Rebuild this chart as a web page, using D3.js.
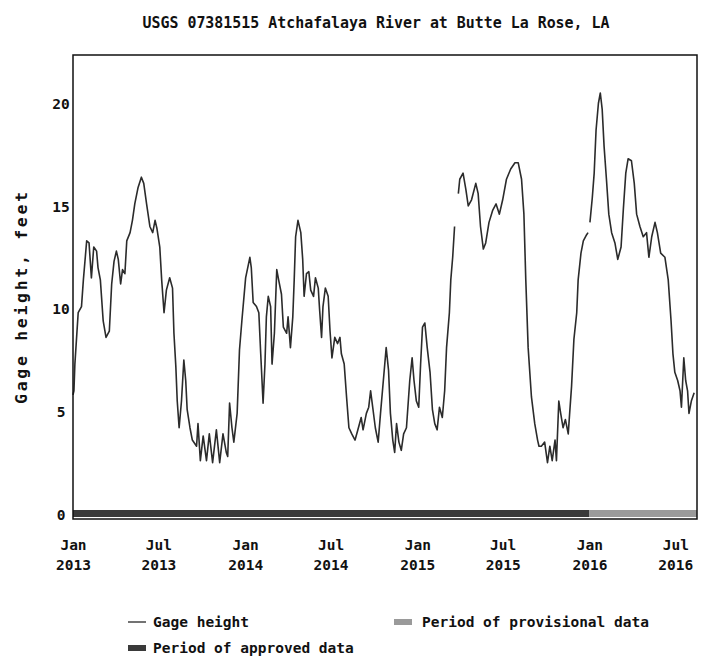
<!DOCTYPE html>
<meta charset="utf-8">
<style>
body { margin: 0; background: #fff; }
svg { font-family: "DejaVu Sans Mono", monospace; font-weight: bold; fill: #111; }
.title { font-size: 15px; }
.tick text { font-size: 14.5px; font-family: "DejaVu Sans Mono", monospace; font-weight: bold; fill: #111; }
.ylabel { font-size: 16.5px; }
.legend text { font-size: 14.5px; }
</style>
<body>
<script src="https://d3js.org/d3.v7.min.js"></script>
<script>
var title = "USGS 07381515 Atchafalaya River at Butte La Rose, LA",
    yLabel = "Gage height, feet";

/* gage height, feet (null = gap in the record) */
var dates = [
  "2013-01-01","2013-01-03","2013-01-05","2013-01-12","2013-01-19","2013-01-23","2013-01-30","2013-02-04",
  "2013-02-09","2013-02-14","2013-02-20","2013-02-23","2013-02-28","2013-03-06","2013-03-12","2013-03-19",
  "2013-03-24","2013-03-29","2013-04-03","2013-04-07","2013-04-12","2013-04-16","2013-04-21","2013-04-25",
  "2013-05-02","2013-05-07","2013-05-12","2013-05-19","2013-05-26","2013-05-31","2013-06-06","2013-06-13",
  "2013-06-19","2013-06-24","2013-06-28","2013-07-04","2013-07-08","2013-07-13","2013-07-18","2013-07-25",
  "2013-07-31","2013-08-03","2013-08-07","2013-08-10","2013-08-14","2013-08-19","2013-08-24","2013-08-28",
  "2013-08-31","2013-09-06","2013-09-11","2013-09-20","2013-09-23","2013-09-28","2013-10-04","2013-10-11",
  "2013-10-17","2013-10-24","2013-11-01","2013-11-08","2013-11-15","2013-11-22","2013-11-25","2013-11-29",
  "2013-12-04","2013-12-08","2013-12-15","2013-12-20","2013-12-25","2014-01-02","2014-01-11","2014-01-14",
  "2014-01-18","2014-01-25","2014-01-30","2014-02-03","2014-02-08","2014-02-12","2014-02-15","2014-02-19",
  "2014-02-24","2014-02-27","2014-03-04","2014-03-09","2014-03-13","2014-03-19","2014-03-23","2014-03-30",
  "2014-04-02","2014-04-07","2014-04-12","2014-04-15","2014-04-18","2014-04-23","2014-04-29","2014-05-03",
  "2014-05-06","2014-05-11","2014-05-16","2014-05-20","2014-05-26","2014-05-30","2014-06-05","2014-06-08",
  "2014-06-12","2014-06-15","2014-06-20","2014-06-26","2014-06-30","2014-07-04","2014-07-10","2014-07-16",
  "2014-07-21","2014-07-24","2014-07-30","2014-08-04","2014-08-09","2014-08-15","2014-08-22","2014-08-28",
  "2014-09-04","2014-09-08","2014-09-15","2014-09-20","2014-09-24","2014-09-29","2014-10-04","2014-10-10",
  "2014-10-15","2014-10-21","2014-10-27","2014-11-01","2014-11-05","2014-11-10","2014-11-14","2014-11-18",
  "2014-11-23","2014-11-28","2014-12-03","2014-12-09","2014-12-16","2014-12-21","2014-12-25","2014-12-30",
  "2015-01-04","2015-01-08","2015-01-12","2015-01-17","2015-01-22","2015-01-28","2015-02-02","2015-02-07",
  "2015-02-12","2015-02-17","2015-02-23","2015-02-28","2015-03-04","2015-03-10","2015-03-13","2015-03-17",
  "2015-03-21","2015-03-25","2015-03-29","2015-04-01","2015-04-08","2015-04-14","2015-04-19","2015-04-26",
  "2015-05-05","2015-05-10","2015-05-15","2015-05-21","2015-05-26","2015-06-02","2015-06-10","2015-06-17",
  "2015-06-24","2015-07-01","2015-07-09","2015-07-18","2015-07-27","2015-08-03","2015-08-10","2015-08-15",
  "2015-08-19","2015-08-24","2015-08-31","2015-09-07","2015-09-13","2015-09-16","2015-09-21","2015-09-28",
  "2015-10-04","2015-10-09","2015-10-14","2015-10-20","2015-10-23","2015-10-28","2015-11-01","2015-11-06",
  "2015-11-11","2015-11-17","2015-11-20","2015-11-24","2015-11-29","2015-12-05","2015-12-08","2015-12-14",
  "2015-12-19","2015-12-26","2015-12-29","2015-12-31","2016-01-02","2016-01-07","2016-01-11","2016-01-15",
  "2016-01-20","2016-01-24","2016-01-28","2016-02-01","2016-02-06","2016-02-11","2016-02-17","2016-02-24",
  "2016-03-01","2016-03-08","2016-03-13","2016-03-18","2016-03-23","2016-03-30","2016-04-05","2016-04-10",
  "2016-04-17","2016-04-24","2016-05-01","2016-05-06","2016-05-12","2016-05-19","2016-05-24","2016-05-31",
  "2016-06-09","2016-06-16","2016-06-22","2016-06-26","2016-06-30","2016-07-06","2016-07-11","2016-07-14",
  "2016-07-19","2016-07-23","2016-07-27","2016-07-30","2016-08-04","2016-08-10"
];
var gage = [
  5.8, 6.0, 7.3, 9.8, 10.1, 11.4, 13.3, 13.2,
  11.5, 13.0, 12.8, 12.0, 11.4, 9.4, 8.6, 8.9,
  11.2, 12.3, 12.8, 12.4, 11.2, 11.9, 11.7, 13.3,
  13.7, 14.3, 15.1, 15.9, 16.4, 16.1, 15.1, 14.0,
  13.7, 14.3, 13.9, 13.0, 11.4, 9.8, 10.9, 11.5,
  11.0, 8.8, 7.2, 5.5, 4.2, 5.5, 7.5, 6.5,
  5.1, 4.2, 3.6, 3.3, 4.4, 2.6, 3.8, 2.6,
  3.9, 2.5, 4.1, 2.5, 3.9, 3.0, 2.8, 5.4,
  4.2, 3.5, 4.9, 8.0, 9.4, 11.5, 12.5, 12.0,
  10.3, 10.1, 9.8, 7.8, 5.4, 7.3, 9.6, 10.6,
  10.1, 7.3, 8.8, 11.9, 11.4, 10.7, 9.1, 8.8,
  9.6, 8.1, 9.6, 11.4, 13.5, 14.3, 13.7, 12.4,
  10.6, 11.7, 11.8, 10.9, 10.6, 11.5, 11.0, 9.9,
  8.6, 10.1, 11.0, 10.6, 8.9, 7.6, 8.6, 8.3,
  8.6, 7.8, 7.3, 5.7, 4.2, 3.9, 3.6, 4.1,
  4.7, 4.1, 4.9, 5.2, 6.0, 5.1, 4.2, 3.5,
  4.9, 6.5, 8.1, 7.0, 4.9, 3.6, 3.0, 4.4,
  3.5, 3.1, 3.9, 4.2, 6.5, 7.6, 6.5, 5.5,
  5.2, 7.3, 9.1, 9.3, 8.1, 6.9, 5.1, 4.4,
  4.1, 5.2, 4.7, 6.0, 8.1, 9.8, 11.4, 12.5,
  14.0, null, 15.6, 16.3, 16.6, 15.8, 15.0, 15.3,
  16.1, 15.6, 14.0, 12.9, 13.2, 14.2, 14.8, 15.1,
  14.6, 15.3, 16.3, 16.8, 17.1, 17.1, 16.3, 14.6,
  11.4, 8.1, 5.7, 4.4, 3.6, 3.3, 3.3, 3.5,
  2.5, 3.3, 2.6, 3.6, 2.6, 5.5, 4.9, 4.2,
  4.6, 3.9, 4.9, 6.2, 8.5, 9.8, 11.4, 12.7,
  13.3, 13.6, 13.7, null, 14.2, 15.4, 16.6, 18.7,
  20.0, 20.5, 19.7, 17.9, 16.3, 14.6, 13.7, 13.2,
  12.4, 13.0, 14.9, 16.6, 17.3, 17.2, 16.1, 14.6,
  14.0, 13.5, 13.7, 12.5, 13.5, 14.2, 13.7, 12.7,
  12.5, 11.4, 9.4, 7.8, 6.9, 6.5, 6.0, 5.2,
  7.6, 6.5, 6.0, 4.9, 5.5, 5.9
];

/* x range, data-status periods and axis ticks */
var startDate = "2013-01-01",
    endDate = "2016-08-16",
    approvedEnd = "2016-01-01";
var xTicks = ["2013-01-01","2013-07-01","2014-01-01","2014-07-01","2015-01-01","2015-07-01","2016-01-01","2016-07-01"],
    xTickMonths = ["Jan","Jul","Jan","Jul","Jan","Jul","Jan","Jul"],
    xTickYears = ["2013","2013","2014","2014","2015","2015","2016","2016"],
    yTicks = [0, 5, 10, 15, 20],
    yMax = 22.35;

var w = 702, h = 657,
    plotLeft = 73, plotRight = 697, plotTop = 55, zeroY = 514, plotBottom = 519;

var parse = d3.utcParse("%Y-%m-%d");
var data = dates.map(function(d, i) { return { date: parse(d), value: gage[i] }; });

var x = d3.scaleUtc().domain([parse(startDate), parse(endDate)]).range([plotLeft, plotRight]),
    y = d3.scaleLinear().domain([0, yMax]).range([zeroY, plotTop]);

var svg = d3.select("body").append("svg")
    .attr("width", w)
    .attr("height", h);

/* title */
svg.append("text")
    .attr("class", "title")
    .attr("x", 376)
    .attr("y", 28)
    .attr("text-anchor", "middle")
    .attr("textLength", 467)
    .attr("lengthAdjust", "spacingAndGlyphs")
    .text(title);

/* y axis label */
svg.append("text")
    .attr("class", "ylabel")
    .attr("transform", "translate(27,298) rotate(-90)")
    .attr("text-anchor", "middle")
    .attr("textLength", 212)
    .attr("lengthAdjust", "spacing")
    .text(yLabel);

/* axes (labels only, no tick marks) */
var yAxis = svg.append("g")
    .attr("transform", "translate(" + plotLeft + ",0)")
    .call(d3.axisLeft(y).tickValues(yTicks).tickSize(0).tickPadding(0));
yAxis.select(".domain").remove();
yAxis.selectAll(".tick text")
    .attr("x", -12)
    .attr("text-anchor", "middle")
    .attr("dy", "0.36em");

var xAxis = svg.append("g")
    .attr("transform", "translate(0," + plotBottom + ")")
    .call(d3.axisBottom(x).tickValues(xTicks.map(parse)).tickSize(0).tickFormat(""));
xAxis.select(".domain").remove();
xAxis.selectAll(".tick text").each(function(d, i) {
  var t = d3.select(this).attr("y", 0).attr("dy", null);
  t.append("tspan").attr("x", 0).attr("y", 31).text(xTickMonths[i]);
  t.append("tspan").attr("x", 0).attr("y", 51).text(xTickYears[i]);
});

/* approved / provisional period bar */
svg.append("rect")
    .attr("x", x(parse(startDate)))
    .attr("y", zeroY - 4)
    .attr("width", x(parse(approvedEnd)) - x(parse(startDate)))
    .attr("height", 7)
    .attr("fill", "#3a3a3a");
svg.append("rect")
    .attr("x", x(parse(approvedEnd)))
    .attr("y", zeroY - 4)
    .attr("width", x(parse(endDate)) - x(parse(approvedEnd)))
    .attr("height", 7)
    .attr("fill", "#9a9a9a");

/* gage height line */
var line = d3.line()
    .defined(function(d) { return d.value !== null; })
    .x(function(d) { return x(d.date); })
    .y(function(d) { return y(d.value); });

svg.append("path")
    .datum(data)
    .attr("fill", "none")
    .attr("stroke", "#2b2b2b")
    .attr("stroke-width", 1.6)
    .attr("stroke-linejoin", "round")
    .attr("d", line);

/* frame */
svg.append("rect")
    .attr("x", plotLeft)
    .attr("y", plotTop)
    .attr("width", plotRight - plotLeft)
    .attr("height", plotBottom - plotTop)
    .attr("fill", "none")
    .attr("stroke", "#111")
    .attr("stroke-width", 1.5);

/* legend */
var legend = svg.append("g").attr("class", "legend");
legend.append("line")
    .attr("x1", 128).attr("x2", 146)
    .attr("y1", 622).attr("y2", 622)
    .attr("stroke", "#444").attr("stroke-width", 1.5);
legend.append("text").attr("x", 153).attr("y", 627).text("Gage height");
legend.append("rect")
    .attr("x", 394).attr("y", 619).attr("width", 18).attr("height", 6)
    .attr("fill", "#9a9a9a");
legend.append("text").attr("x", 422).attr("y", 627).text("Period of provisional data");
legend.append("rect")
    .attr("x", 128).attr("y", 645).attr("width", 18).attr("height", 6)
    .attr("fill", "#3a3a3a");
legend.append("text").attr("x", 153).attr("y", 653).text("Period of approved data");
</script>
</body>
